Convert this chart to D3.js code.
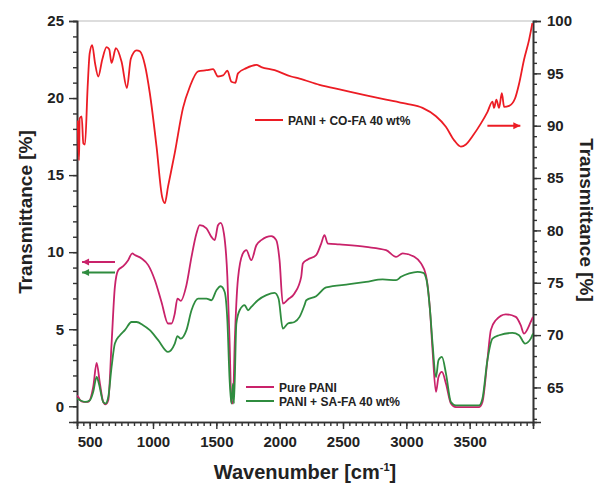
<!DOCTYPE html>
<html>
<head>
<meta charset="utf-8">
<script src="https://cdn.jsdelivr.net/npm/d3@7"></script>
<style>
  body { margin: 0; background: #fff; }
  text { font-family: Arial, "Liberation Sans", sans-serif; font-weight: bold; fill: #222; }
</style>
</head>
<body>
<div id="chart"></div>
<script>
// FTIR spectra: two series on left axis, one on right axis

var coWave = [405,416,421,437,450,463,484,500,520,542,568,599,634,654,673,707,752,794,825,870,
  896,936,975,1028,1072,1093,1119,1172,1237,1290,1356,1422,1474,1513,1553,1587,1619,1650,1671,1737,
  1816,1855,1960,2091,2157,2314,2498,2682,2840,2997,3128,3234,3312,3378,3431,3470,3522,3588,3640,3680,
  3693,3711,3732,3754,3772,3811,3858,3890,3929,3969,3995];
var coT = [90.5,86.7,90.7,90.9,88.3,88.2,93.7,96.9,97.7,96.0,94.7,96.3,97.5,97.3,96.0,97.4,96.1,93.6,96.4,97.2,
  97.1,95.8,93.1,88.0,83.2,82.6,84.2,87.4,91.7,93.7,95.2,95.3,95.4,94.7,94.8,95.25,94.2,94.1,95.0,95.5,
  95.8,95.6,95.3,94.7,94.5,93.9,93.4,92.9,92.5,92.1,91.7,90.9,89.9,88.6,88.0,88.2,89.0,90.2,91.3,92.3,
  91.7,92.5,91.7,93.1,91.8,91.9,92.6,94.0,96.3,98.2,99.8];

var pureWave = [400,410,424,450,489,528,555,581,607,626,647,673,699,725,765,804,836,857,910,962,
  1015,1067,1119,1146,1172,1193,1219,1264,1304,1343,1369,1422,1461,1487,1513,1534,1560,1587,1605,1619,
  1631,1645,1671,1710,1737,1776,1816,1855,1934,1973,1999,2025,2065,2117,2170,2183,2222,2288,2328,2354,
  2380,2472,2682,2840,2919,2971,3063,3116,3155,3187,3207,3234,3254,3281,3313,3352,3391,3575,3601,3640,
  3667,3706,3785,3864,3903,3929,3982,4000];
var pureT = [0.7,0.6,0.4,0.28,0.28,1.25,2.81,1.47,0.28,0.13,0.39,4.07,7.75,8.83,9.09,9.48,9.92,9.81,9.59,9.16,
  8.18,6.77,5.37,5.37,6.02,6.99,6.84,7.86,9.69,11.21,11.75,11.54,10.99,10.78,11.75,11.9,11.21,8.4,4.07,0.28,
  0.18,4.07,8.29,9.92,10.13,9.48,10.45,10.78,11.04,10.78,9.48,6.67,6.93,7.32,8.4,9.27,9.53,9.81,10.56,11.1,
  10.56,10.5,10.34,10.13,9.7,9.92,9.7,9.27,8.51,6.23,3.64,0.93,1.9,2.23,1.47,0.18,-0.05,-0.05,0.28,2.99,
  4.94,5.58,5.97,5.8,5.26,4.72,5.47,5.8];

var saWave = [400,424,463,502,528,555,573,607,626,647,673,699,739,778,831,870,922,975,1041,1119,
  1172,1193,1219,1264,1304,1356,1422,1461,1501,1534,1566,1587,1605,1619,1631,1639,1658,1684,1724,1750,
  1776,1828,1895,1960,1991,2025,2065,2117,2157,2196,2210,2288,2367,2551,2682,2813,2919,2958,3023,3089,
  3134,3160,3187,3207,3234,3254,3281,3313,3352,3391,3575,3601,3640,3680,3732,3837,3890,3937,3982,4000];
var saT = [0.5,0.39,0.28,0.39,0.93,1.9,1.47,0.28,0.18,0.6,2.55,4.07,4.61,4.94,5.47,5.47,5.26,4.94,4.29,3.53,
  4.07,4.55,4.39,4.94,6.23,6.99,6.99,6.88,7.53,7.79,7.42,5.58,1.69,0.18,1.47,0.18,5.37,6.23,6.56,6.23,
  6.45,6.88,7.21,7.36,6.99,5.04,5.37,5.47,5.8,6.56,6.88,7.14,7.71,7.92,8.07,8.23,8.18,8.4,8.62,8.72,
  8.66,8.18,6.23,4.07,1.9,2.99,3.2,2.12,0.28,0.06,0.06,0.5,2.99,4.39,4.61,4.76,4.61,4.07,4.39,4.72];

var xTicks = [500,1000,1500,2000,2500,3000,3500];
var leftTicks = [0,5,10,15,20,25];
var rightTicks = [65,70,75,80,85,90,95,100];
var seriesNames = ["Pure PANI", "PANI + SA-FA 40 wt%", "PANI + CO-FA 40 wt%"];
var seriesColors = ["#c9226a", "#2f8c3f", "#ec1c24"];
// arrows: [wave start, wave end, value] - pointing at their axis
var leftArrows = [[700, 440, 9.37], [700, 440, 8.68]];
var rightArrows = [[3640, 3900, 90.0]];

var width = 604, height = 489,
    margin = {top: 21, right: 71, bottom: 67, left: 77};

var svg = d3.select("#chart").append("svg")
  .attr("width", width).attr("height", height);

var x = d3.scaleLinear().domain([400, 4000]).range([margin.left, width - margin.right]);
var yL = d3.scaleLinear().domain([-1.02, 25]).range([height - margin.bottom, margin.top]);
var yR = d3.scaleLinear().domain([61.7, 100]).range([height - margin.bottom, margin.top]);

svg.append("clipPath").attr("id", "plotClip")
  .append("rect")
  .attr("x", margin.left).attr("y", margin.top)
  .attr("width", width - margin.left - margin.right)
  .attr("height", height - margin.top - margin.bottom);

// top frame line
svg.append("line")
  .attr("x1", margin.left).attr("x2", width - margin.right)
  .attr("y1", margin.top).attr("y2", margin.top)
  .attr("stroke", "#bbb").attr("stroke-width", 1);

function styleAxis(g){
  g.select(".domain").attr("stroke", "#333").attr("stroke-width", 1.6);
  g.selectAll(".tick line").attr("stroke", "#333").attr("stroke-width", 1.4);
  g.selectAll("text").style("font-size", "15px").attr("fill", "#222");
}

// minor ticks
svg.append("g").attr("transform", "translate(0," + (height - margin.bottom) + ")")
  .call(d3.axisBottom(x).tickValues(d3.range(400, 4001, 50)).tickSize(4).tickFormat(""))
  .call(styleAxis);
svg.append("g").attr("transform", "translate(" + margin.left + ",0)")
  .call(d3.axisLeft(yL).tickValues(d3.range(0, 26, 1)).tickSize(4).tickFormat(""))
  .call(styleAxis);
svg.append("g").attr("transform", "translate(" + (width - margin.right) + ",0)")
  .call(d3.axisRight(yR).tickValues(d3.range(62, 101, 1)).tickSize(4).tickFormat(""))
  .call(styleAxis);

// major ticks
svg.append("g").attr("transform", "translate(0," + (height - margin.bottom) + ")")
  .call(d3.axisBottom(x).tickValues(xTicks).tickSize(7).tickPadding(7).tickFormat(d3.format("d")))
  .call(styleAxis);
svg.append("g").attr("transform", "translate(" + margin.left + ",0)")
  .call(d3.axisLeft(yL).tickValues(leftTicks).tickSize(8).tickPadding(5))
  .call(styleAxis);
svg.append("g").attr("transform", "translate(" + (width - margin.right) + ",0)")
  .call(d3.axisRight(yR).tickValues(rightTicks).tickSize(8).tickPadding(6))
  .call(styleAxis);

var lineL = d3.line().x(d => x(d[0])).y(d => yL(d[1])).curve(d3.curveMonotoneX);
var lineR = d3.line().x(d => x(d[0])).y(d => yR(d[1])).curve(d3.curveMonotoneX);

var plot = svg.append("g").attr("clip-path", "url(#plotClip)");
plot.append("path").datum(d3.zip(pureWave, pureT))
  .attr("d", lineL).attr("fill", "none")
  .attr("stroke", seriesColors[0]).attr("stroke-width", 1.8);
plot.append("path").datum(d3.zip(saWave, saT))
  .attr("d", lineL).attr("fill", "none")
  .attr("stroke", seriesColors[1]).attr("stroke-width", 1.8);
plot.append("path").datum(d3.zip(coWave, coT))
  .attr("d", lineR).attr("fill", "none")
  .attr("stroke", seriesColors[2]).attr("stroke-width", 1.8);

// arrows
function arrow(x1, x2, y, col){
  var dir = x2 > x1 ? 1 : -1;
  svg.append("line").attr("x1", x1).attr("x2", x2).attr("y1", y).attr("y2", y)
    .attr("stroke", col).attr("stroke-width", 2);
  svg.append("path")
    .attr("d", "M" + x2 + "," + y + "L" + (x2 - dir * 7) + "," + (y - 3.5) +
      "L" + (x2 - dir * 7) + "," + (y + 3.5) + "Z")
    .attr("fill", col);
}
leftArrows.forEach((a, i) => arrow(x(a[0]), x(a[1]), yL(a[2]), seriesColors[i]));
rightArrows.forEach(a => arrow(x(a[0]), x(a[1]), yR(a[2]), seriesColors[2]));

// legends
var legendPos = [[246, 387], [246, 401], [255, 120]];
seriesNames.forEach((name, i) => {
  var p = legendPos[i];
  svg.append("line").attr("x1", p[0]).attr("x2", p[0] + 28)
    .attr("y1", p[1]).attr("y2", p[1])
    .attr("stroke", seriesColors[i]).attr("stroke-width", 2);
  svg.append("text").attr("x", p[0] + 33).attr("y", p[1] + 4.5)
    .style("font-size", "12px").text(name);
});

// axis titles
svg.append("text")
  .attr("transform", "translate(32,212) rotate(-90)")
  .attr("text-anchor", "middle").style("font-size", "19px")
  .text("Transmittance [%]");
svg.append("text")
  .attr("transform", "translate(580,220) rotate(90)")
  .attr("text-anchor", "middle").style("font-size", "19px")
  .text("Transmittance [%]");
var xt = svg.append("text")
  .attr("x", 305).attr("y", 479)
  .attr("text-anchor", "middle").style("font-size", "20px");
xt.append("tspan").text("Wavenumber [cm");
xt.append("tspan").attr("dy", -8).style("font-size", "11px").text("-1");
xt.append("tspan").attr("dy", 8).text("]");
</script>
</body>
</html>
